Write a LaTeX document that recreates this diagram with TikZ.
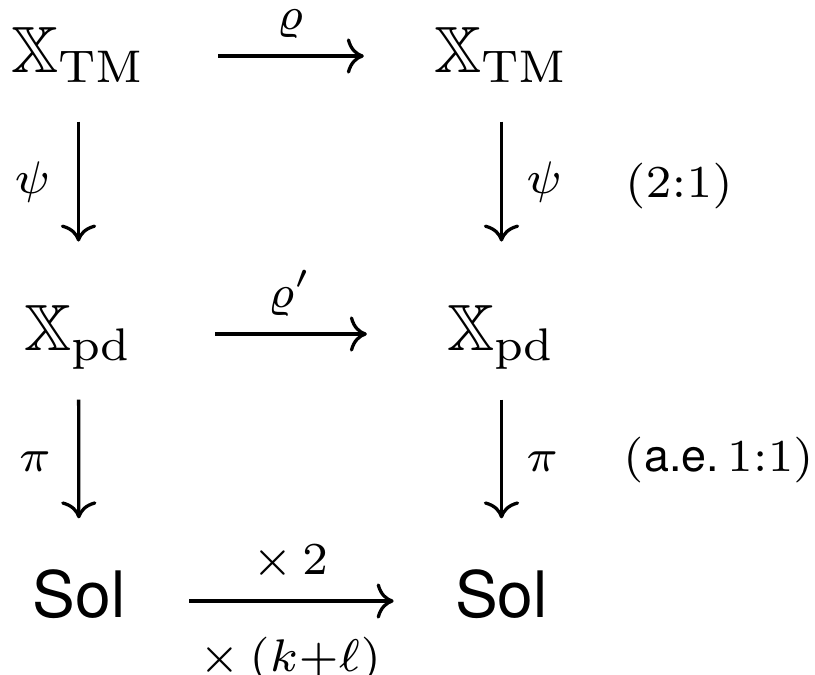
\documentclass[tikz,border=0pt]{standalone}
\usepackage{amsmath,amssymb}
\usepackage{fontspec}
\newfontfamily\helv{TeX Gyre Heros}[Scale=0.98]
\usetikzlibrary{arrows.meta}

\begin{document}
\begin{tikzpicture}[x=0.153pt, y=-0.153pt, line width=0.5pt,
  >={Computer Modern Rightarrow[length=2.6pt,width=5.4pt]},
  obj/.style={inner sep=0pt,minimum width=19.7pt,text height=7pt,text depth=2pt},
  lab/.style={inner sep=0pt,font=\scriptsize}]
  \useasboundingbox (0,0) rectangle (815,674);
  \node[obj] (t1) at (78.5,56) {$\mathbb{X}_{\mathrm{TM}}$};
  \node[obj] (t2) at (501.5,56) {$\mathbb{X}_{\mathrm{TM}}$};
  \node[obj] (m1) at (78.5,334) {$\mathbb{X}_{\mathrm{pd}}$};
  \node[obj] (m2) at (501.5,334) {$\mathbb{X}_{\mathrm{pd}}$};
  \node[obj] (s1) at (79,601) {\helv Sol};
  \node[obj] (s2) at (501.5,601) {\helv Sol};
  % horizontal maps
  \draw[->,shorten <=10.8pt,shorten >=10.5pt] (t1) -- (t2)
    node[lab,midway,above=2.4pt] (rho) {$\varrho$};
  \draw[->,shorten <=10.8pt,shorten >=10.5pt] (m1) -- (m2)
    node[lab,midway,above=2.4pt] (rhop) {$\varrho'$};
  \draw[->,shorten <=6.8pt,shorten >=6.4pt] (s1) -- (s2)
    node[lab,midway,above=2.9pt] (two) {$\times\,2$}
    node[lab,midway,below=5.3pt] (kl) {$\times\,(k{+}\ell)$};
  % vertical maps
  \draw[->,shorten <=5.3pt,shorten >=9.4pt] (t1) -- (m1)
    node[lab,pos=0.44,left=4pt] (psi1) {$\psi$};
  \draw[->,shorten <=5.3pt,shorten >=9.4pt] (t2) -- (m2)
    node[lab,pos=0.44,right=3.5pt] (psi2) {$\psi$};
  \draw[->,shorten <=5.3pt,shorten >=7.9pt] (m1) -- (s1)
    node[lab,pos=0.47,left=4pt] (pi1) {$\pi$};
  \draw[->,shorten <=5.3pt,shorten >=7.9pt] (m2) -- (s2)
    node[lab,pos=0.47,right=3.5pt] (pi2) {$\pi$};
  % degrees of the maps
  \node[lab,anchor=base] (deg1) at (679,197) {$(2{:}1)$};
  \node[lab,anchor=base] (deg2) at (719,471) {({\helv a.e.}\kern1.2pt$1{:}1$)};
\end{tikzpicture}
\end{document}
